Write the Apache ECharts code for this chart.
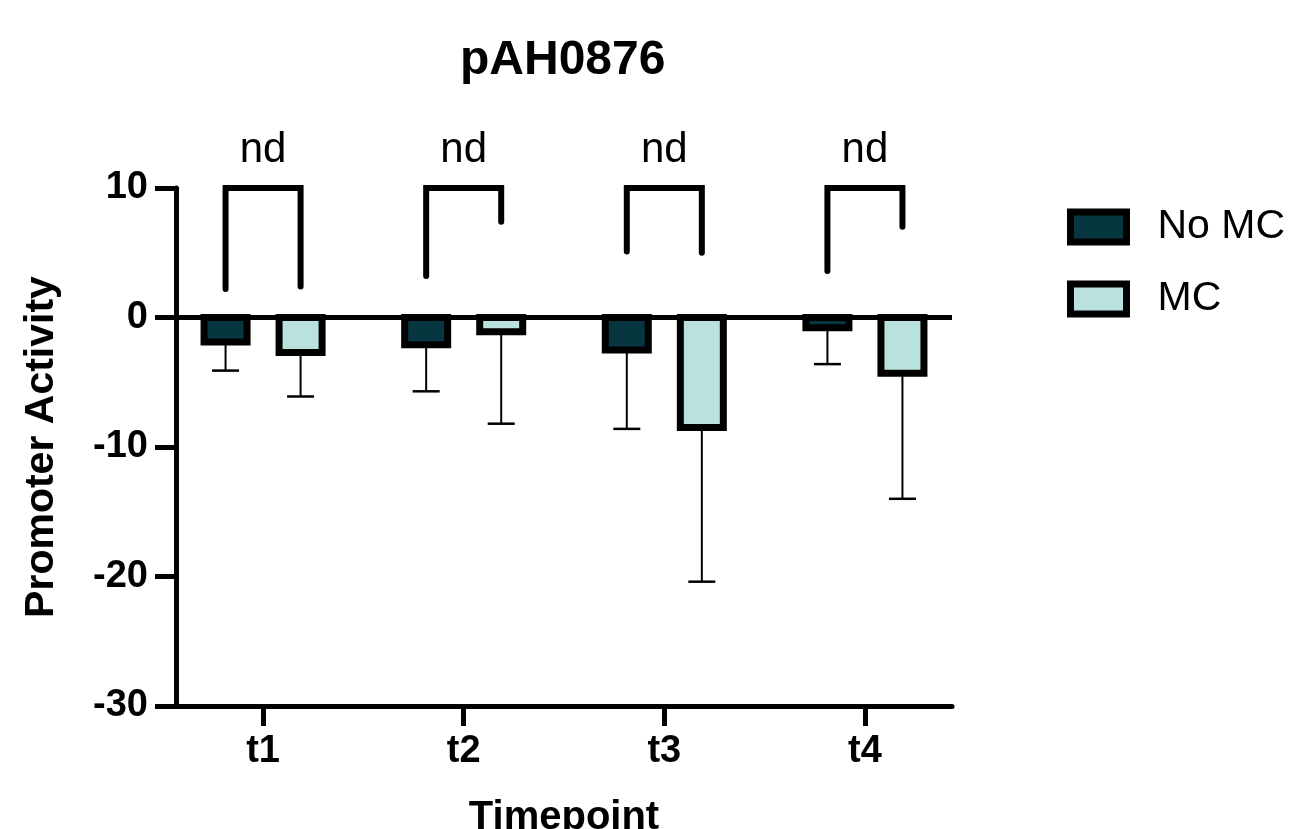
<!DOCTYPE html>
<html>
<head>
<meta charset="utf-8">
<script src="https://cdn.jsdelivr.net/npm/echarts@6/dist/echarts.min.js"></script>
<style>
  html, body { margin: 0; padding: 0; background: #fff; }
  #chart { width: 1306px; height: 829px; }
</style>
</head>
<body>
<div id="chart"></div>
<script>
(function () {
    'use strict';

    // data
    var categories = ['t1', 't2', 't3', 't4'];
    var noMc = [-1.9, -2.1, -2.5, -0.8];
    var noMcSd = [2.2, 3.6, 6.1, 2.8];
    var mc = [-2.7, -1.1, -8.5, -4.3];
    var mcSd = [3.4, 7.1, 11.9, 9.7];
    // comparison brackets: leg ends and label per timepoint
    var legLeft = [2.2, 3.2, 5.1, 3.6];
    var legRight = [2.4, 7.4, 5.0, 7.0];
    var bracketTop = [10, 10, 10, 10];
    var bracketLabel = ['nd', 'nd', 'nd', 'nd'];
    var yTicks = [10, 0, -10, -20, -30];

    var FONT = '"Liberation Sans", Arial, Helvetica, sans-serif';
    var DARK = '#06363f';
    var LIGHT = '#b9e2de';
    var OFFSET = 0.187; // half distance between the two bars, in axis units

    function rows(vals, sds) {
        return categories.map(function (c, i) { return [i + 1, vals[i], sds[i]]; });
    }

    function barRenderer(offset, color) {
        return function (params, api) {
            var x = api.value(0) + offset;
            var v = api.value(1);
            var sd = api.value(2);
            var base = api.coord([x, 0]);
            var end = api.coord([x, v]);
            var low = api.coord([x, v - sd]);
            var w = 43, cap = 27;
            return {
                type: 'group',
                children: [
                    { type: 'line', shape: { x1: base[0], y1: end[1], x2: base[0], y2: low[1] },
                      style: { stroke: '#000', lineWidth: 2 } },
                    { type: 'line', shape: { x1: base[0] - cap / 2, y1: low[1], x2: base[0] + cap / 2, y2: low[1] },
                      style: { stroke: '#000', lineWidth: 2.5 } },
                    { type: 'rect', shape: { x: base[0] - w / 2, y: Math.min(base[1], end[1]), width: w, height: Math.abs(end[1] - base[1]) },
                      style: { fill: color, stroke: '#000', lineWidth: 7 } }
                ]
            };
        };
    }

    function bracketRenderer(params, api) {
        var x = api.value(0);
        var l = api.coord([x - OFFSET, api.value(1)]);
        var r = api.coord([x + OFFSET, api.value(2)]);
        var t = api.coord([x, api.value(3)]);
        return {
            type: 'group',
            children: [
                { type: 'polyline', shape: { points: [[l[0], l[1]], [l[0], t[1]], [r[0], t[1]], [r[0], r[1]]] },
                  style: { stroke: '#000', fill: null, lineWidth: 6, lineCap: 'round', lineJoin: 'miter' } },
                { type: 'text', x: (l[0] + r[0]) / 2, y: t[1] - 38,
                  style: { text: bracketLabel[params.dataIndex], fill: '#000', font: '42px ' + FONT,
                           align: 'center', verticalAlign: 'middle' } }
            ]
        };
    }

    var chart = echarts.init(document.getElementById('chart'));
    chart.setOption({
        animation: false,
        backgroundColor: '#fff',
        title: {
            text: 'pAH0876',
            left: 455, top: 32,
            textStyle: { fontFamily: FONT, fontWeight: 'bold', fontSize: 48, color: '#000' }
        },
        legend: {
            orient: 'vertical',
            left: 1062, top: 200,
            icon: 'rect',
            itemWidth: 56, itemHeight: 30, itemGap: 28,
            textStyle: { fontFamily: FONT, fontSize: 41, lineHeight: 44, color: '#000', padding: [0, 0, 0, 26] },
            data: [
                { name: 'No MC', itemStyle: { color: DARK, borderColor: '#000', borderWidth: 7 } },
                { name: 'MC', itemStyle: { color: LIGHT, borderColor: '#000', borderWidth: 7 } }
            ]
        },
        grid: { left: 176, right: 354, top: 188, bottom: 123, outerBoundsMode: 'none', containLabel: false },
        xAxis: {
            type: 'value',
            min: 0.566, max: 4.434,
            name: 'Timepoint',
            nameLocation: 'middle',
            nameGap: 92,
            nameTextStyle: { fontFamily: FONT, fontWeight: 'bold', fontSize: 40, color: '#000' },
            splitLine: { show: false },
            axisLine: { show: true, onZero: false, lineStyle: { color: '#000', width: 5 } },
            axisTick: { show: true, customValues: [1, 2, 3, 4], length: 20, lineStyle: { color: '#000', width: 5 } },
            axisLabel: {
                customValues: [1, 2, 3, 4],
                formatter: function (v) { return categories[Math.round(v) - 1]; },
                margin: 27,
                fontFamily: FONT, fontWeight: 'bold', fontSize: 38, color: '#000'
            }
        },
        yAxis: {
            type: 'value',
            min: yTicks[yTicks.length - 1], max: yTicks[0], interval: 10,
            name: 'Promoter Activity',
            nameLocation: 'middle',
            nameGap: 114,
            nameTextStyle: { fontFamily: FONT, fontWeight: 'bold', fontSize: 41, color: '#000' },
            splitLine: { show: false },
            axisLine: { show: true, onZero: false, lineStyle: { color: '#000', width: 5 } },
            axisTick: { show: true, length: 21, lineStyle: { color: '#000', width: 5 } },
            axisLabel: { margin: 28, fontFamily: FONT, fontWeight: 'bold', fontSize: 38, color: '#000' }
        },
        series: [
            {
                name: 'No MC', type: 'custom',
                renderItem: barRenderer(-OFFSET, DARK),
                itemStyle: { color: DARK },
                encode: { x: 0, y: 1 },
                data: rows(noMc, noMcSd),
                markLine: {
                    silent: true, symbol: 'none', label: { show: false },
                    lineStyle: { color: '#000', width: 5, type: 'solid' },
                    data: [{ yAxis: 0 }]
                }
            },
            {
                name: 'MC', type: 'custom',
                renderItem: barRenderer(OFFSET, LIGHT),
                itemStyle: { color: LIGHT },
                encode: { x: 0, y: 1 },
                data: rows(mc, mcSd)
            },
            {
                name: 'brackets', type: 'custom',
                clip: false,
                renderItem: bracketRenderer,
                encode: { x: 0, y: 3 },
                data: categories.map(function (c, i) { return [i + 1, legLeft[i], legRight[i], bracketTop[i]]; })
            }
        ]
    });
})();
</script>
</body>
</html>
